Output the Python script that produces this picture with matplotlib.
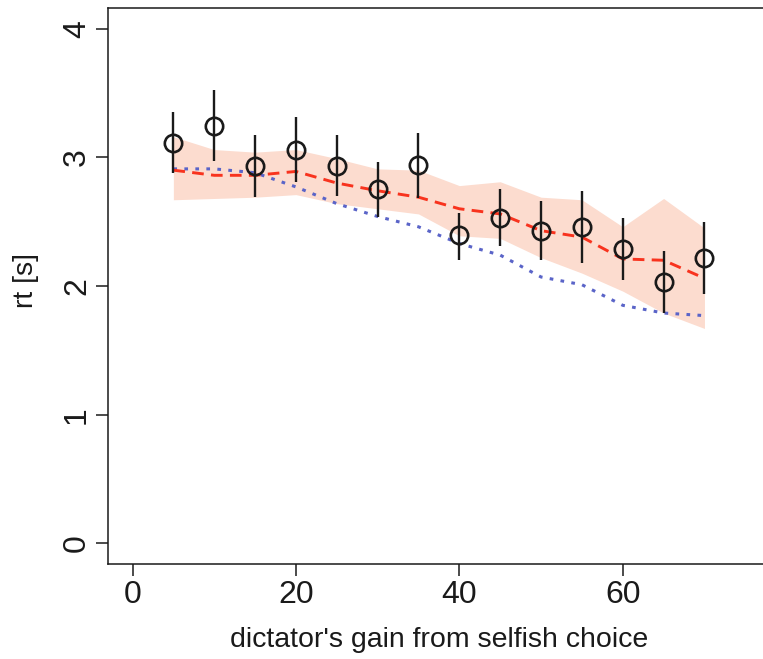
import numpy as np
import matplotlib
matplotlib.use("Agg")
import matplotlib.pyplot as plt

plt.rcParams['font.family'] = ['Liberation Sans', 'DejaVu Sans']

# dictator's gain (x) and observed mean rt with error bars
gain = [5, 10, 15, 20, 25, 30, 35, 40, 45, 50, 55, 60, 65, 70]
rt_obs = [3.11, 3.24, 2.93, 3.06, 2.93, 2.75, 2.94, 2.40, 2.53, 2.43, 2.46, 2.29, 2.03, 2.22]
rt_lo = [2.88, 2.97, 2.69, 2.81, 2.70, 2.54, 2.68, 2.20, 2.31, 2.20, 2.18, 2.05, 1.79, 1.94]
rt_hi = [3.35, 3.52, 3.17, 3.31, 3.17, 2.96, 3.19, 2.57, 2.75, 2.66, 2.74, 2.53, 2.27, 2.50]

# model prediction (red dashed) and its band
pred = [2.90, 2.86, 2.86, 2.89, 2.80, 2.74, 2.69, 2.60, 2.56, 2.43, 2.38, 2.21, 2.20, 2.06]
band_lo = [2.67, 2.68, 2.69, 2.71, 2.64, 2.60, 2.56, 2.39, 2.37, 2.22, 2.10, 1.96, 1.79, 1.67]
band_hi = [3.16, 3.06, 3.04, 3.06, 2.99, 2.91, 2.90, 2.78, 2.81, 2.69, 2.67, 2.46, 2.68, 2.45]

# second model (blue dotted)
pred2 = [2.91, 2.91, 2.88, 2.77, 2.64, 2.54, 2.46, 2.33, 2.24, 2.07, 2.01, 1.85, 1.79, 1.77]

xticks = [0, 20, 40, 60]
yticks = [0, 1, 2, 3, 4]

fig = plt.figure(figsize=(7.63, 6.59), dpi=100)
# right edge of the box lies outside the picture, as in the original crop
ax = fig.add_axes([108/763, 95/659, 670/763, 556/659])

ax.fill_between(gain, band_lo, band_hi, color='#fcdccf', linewidth=0)
ax.plot(gain, pred2, color='#5a64c8', linestyle=(0, (1.2, 2.4)), linewidth=2.2,
        dash_capstyle='butt')
ax.plot(gain, pred, color='#f8331e', linestyle=(0, (4, 2.5)), linewidth=2.1)

err = [np.array(rt_obs) - np.array(rt_lo), np.array(rt_hi) - np.array(rt_obs)]
ax.errorbar(gain, rt_obs, yerr=err, fmt='o', mfc='none', mec='#1a1a1a',
            ms=12.5, mew=1.9, ecolor='#1a1a1a', elinewidth=1.7, capsize=0)

ax.set_xlim(-3, 79)
ax.set_ylim(-0.16, 4.16)
ax.set_xticks(xticks)
ax.set_yticks(yticks)
ax.tick_params(direction='out', length=8.5, width=1.1, labelsize=23, pad=3,
               colors='#1a1a1a')
plt.setp(ax.get_yticklabels(), rotation=90, va='center')
for s in ax.spines.values():
    s.set_linewidth(1.1)
    s.set_color('#1a1a1a')

ax.set_xlabel("dictator's gain from selfish choice", fontsize=20.5, color='#1a1a1a')
ax.xaxis.set_label_coords(0.5 * 662 / 670, -0.113)
ax.set_ylabel("rt [s]", fontsize=20.5, color='#1a1a1a')
ax.yaxis.set_label_coords(-0.104 * 662 / 670, 0.51)

fig.savefig("out.png", dpi=100)
